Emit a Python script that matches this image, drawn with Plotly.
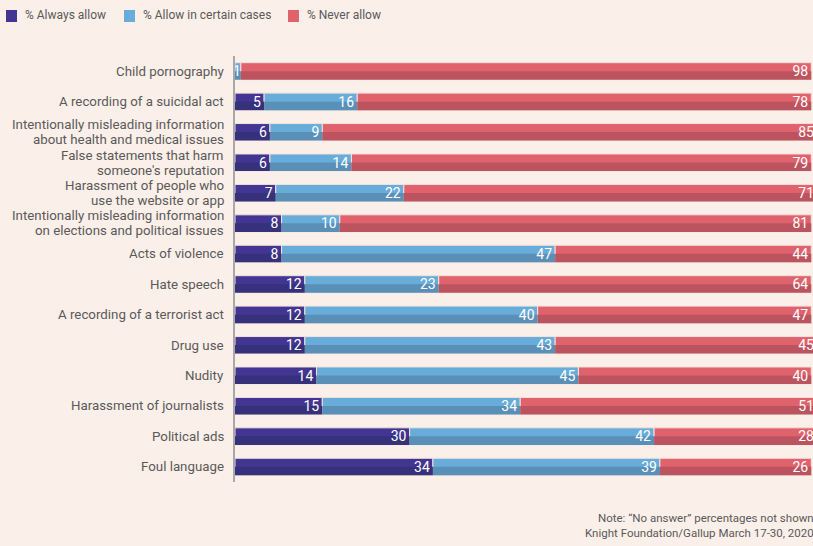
import plotly.graph_objects as go

categories = [
    "Child pornography",
    "A recording of a suicidal act",
    "Intentionally misleading information<br>about health and medical issues",
    "False statements that harm<br>someone's reputation",
    "Harassment of people who<br>use the website or app",
    "Intentionally misleading information<br>on elections and political issues",
    "Acts of violence",
    "Hate speech",
    "A recording of a terrorist act",
    "Drug use",
    "Nudity",
    "Harassment of journalists",
    "Political ads",
    "Foul language",
]
always_allow = [0, 5, 6, 6, 7, 8, 8, 12, 12, 12, 14, 15, 30, 34]
certain_cases = [1, 16, 9, 14, 22, 10, 47, 23, 40, 43, 45, 34, 42, 39]
never_allow = [98, 78, 85, 79, 71, 81, 44, 64, 47, 45, 40, 51, 28, 26]
series_names = ["% Always allow", "% Allow in certain cases", "% Never allow"]

top_colors = ["#433592", "#68acd9", "#e0626c"]
bottom_colors = ["#37307a", "#5a8fb7", "#bc5460"]
bg = "#fbefe9"
txt = "#5a5a5a"

series = [always_allow, certain_cases, never_allow]
bases = []
running = [0] * len(categories)
for vals in series:
    bases.append(list(running))
    running = [r + v for r, v in zip(running, vals)]

fig = go.Figure()
BW = 0.56
for i, vals in enumerate(series):
    fig.add_trace(go.Bar(
        y=categories, x=vals, base=bases[i], orientation="h",
        name=series_names[i],
        marker=dict(color=top_colors[i], line=dict(color="#f3e2dc", width=1)),
        width=BW, offset=-BW / 2,
        showlegend=False, hoverinfo="skip",
    ))
for i, vals in enumerate(series):
    fig.add_trace(go.Bar(
        y=categories, x=vals, base=bases[i], orientation="h",
        marker=dict(color=bottom_colors[i], line=dict(width=0)),
        width=BW / 2, offset=0,
        showlegend=False, hoverinfo="skip",
    ))
for i, vals in enumerate(series):
    texts = [str(v) if v > 0 else "" for v in vals]
    fig.add_trace(go.Bar(
        y=categories, x=vals, base=bases[i], orientation="h",
        marker=dict(color="rgba(0,0,0,0)", line=dict(width=0)),
        width=BW, offset=-BW / 2,
        text=texts, textposition="inside", insidetextanchor="end",
        textangle=0, constraintext="none",
        textfont=dict(color="white", size=14, family="Roboto"),
        showlegend=False, hoverinfo="skip",
    ))

# Legend drawn as shapes + annotations (compact, like the reference)
L, PW = 235, 578
legend_sq_x = [6, 124, 288]
legend_txt_x = [23, 141, 305]
shapes = []
annotations = []
for i in range(3):
    shapes.append(dict(
        type="rect", xref="paper", yref="paper",
        xsizemode="pixel", ysizemode="pixel",
        xanchor=(legend_sq_x[i] - L) / PW, yanchor=1.0,
        x0=0, x1=11, y0=46, y1=34,
        fillcolor=top_colors[i], line=dict(width=0), layer="above",
    ))
    annotations.append(dict(
        text=series_names[i], xref="paper", yref="paper",
        x=(legend_txt_x[i] - L) / PW, y=1.0, yshift=41,
        xanchor="left", yanchor="middle", showarrow=False,
        font=dict(size=12, color=txt),
    ))

# Category labels with tight line spacing
for cat in categories:
    lines = cat.split("<br>")
    n = len(lines)
    for j, line in enumerate(lines):
        annotations.append(dict(
            text=line, xref="paper", yref="y", x=0, y=cat,
            xanchor="right", yanchor="middle", xshift=-9,
            yshift=(n - 1) * 7.5 - j * 15, showarrow=False,
            font=dict(size=13.3, color=txt),
        ))

annotations.append(dict(
    text="Note: “No answer” percentages not shown<br>Knight Foundation/Gallup March 17-30, 2020",
    xref="paper", yref="paper", x=1.006, y=-0.141,
    xanchor="right", yanchor="bottom", align="right", showarrow=False,
    font=dict(size=11.5, color=txt),
))

fig.update_layout(
    width=813, height=546,
    barmode="overlay",
    paper_bgcolor=bg, plot_bgcolor=bg,
    margin=dict(l=235, r=0, t=56, b=64),
    font=dict(family="Roboto", color=txt, size=13),
    uniformtext=dict(minsize=14, mode="show"),
    showlegend=False,
    xaxis=dict(range=[0, 99.3], visible=False, fixedrange=True),
    yaxis=dict(
        autorange="reversed", showgrid=False, zeroline=False,
        showline=True, linecolor="#a8a8a8", linewidth=1.5,
        ticks="", showticklabels=False, fixedrange=True,
    ),
    shapes=shapes,
    annotations=annotations,
)
fig.write_html(
    "out.html",
    config={"displayModeBar": False},
    post_script="document.body.style.margin='0';document.body.style.overflow='hidden';",
)
